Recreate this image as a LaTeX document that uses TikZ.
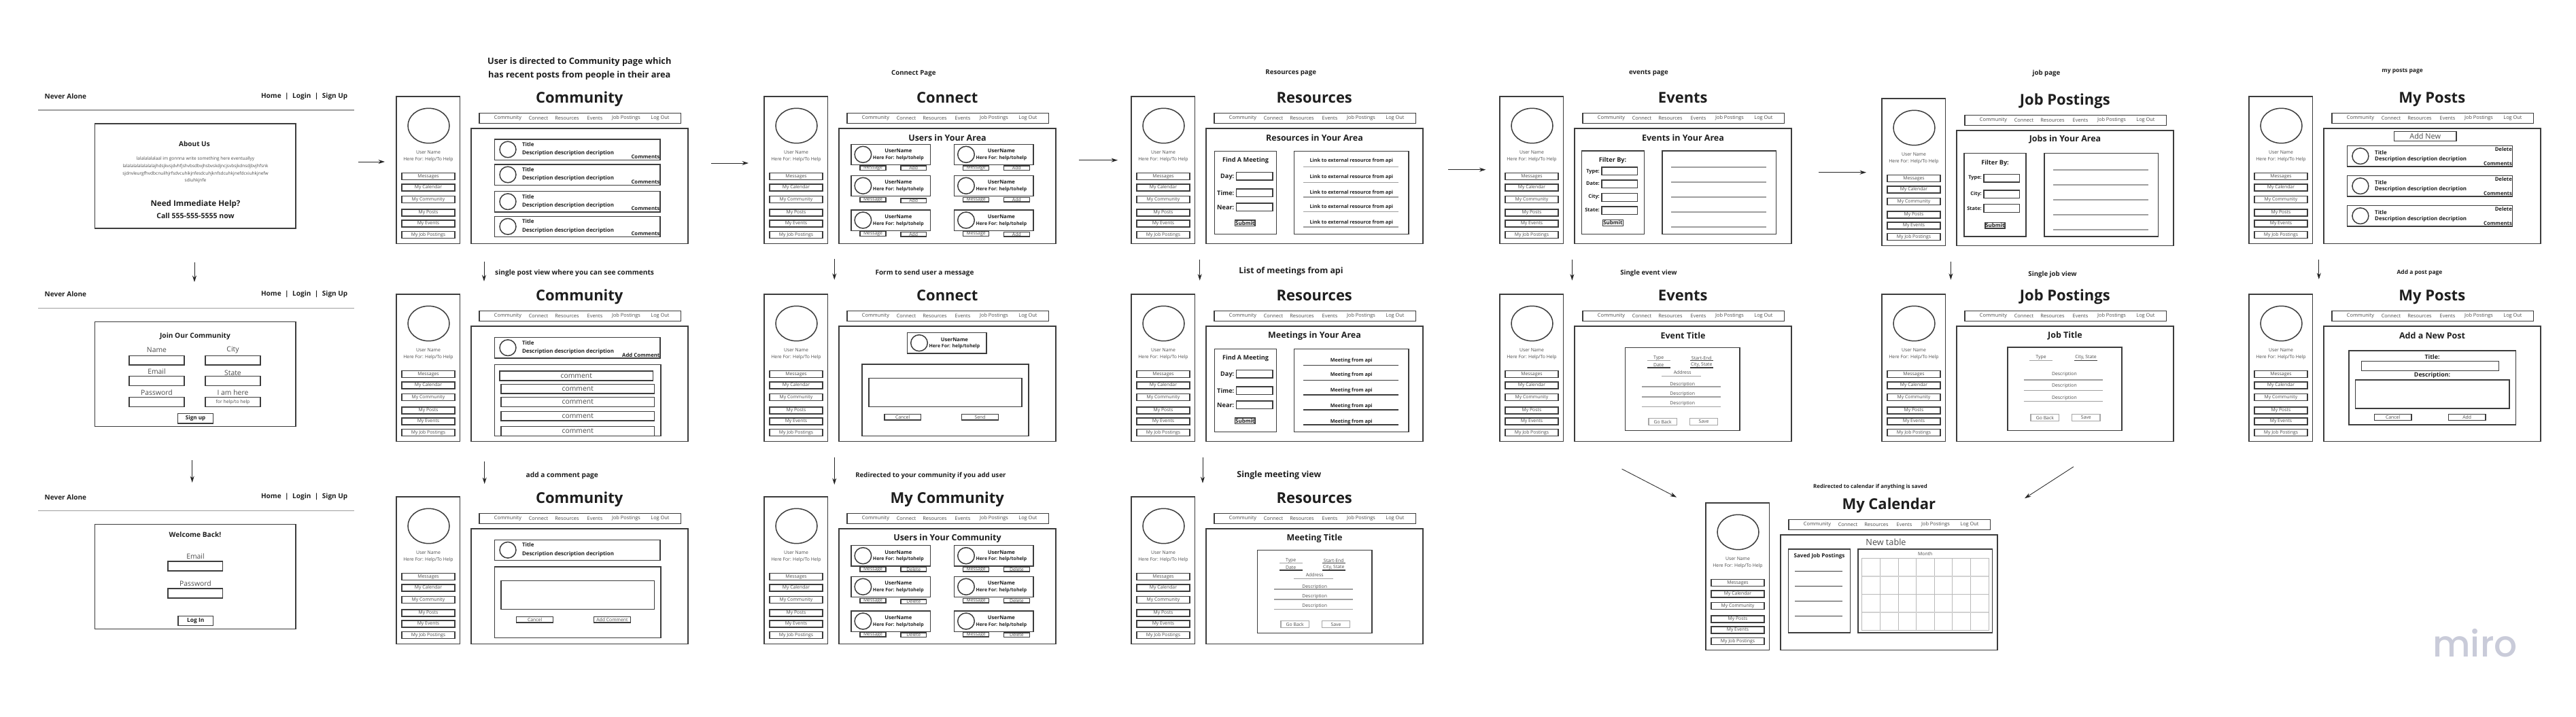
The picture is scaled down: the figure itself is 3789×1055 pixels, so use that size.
\documentclass[tikz,border=0pt]{standalone}
\usepackage{fontspec}
\setmainfont{Open Sans}
\newfontfamily\miroFont{Poppins Medium}
\usetikzlibrary{arrows.meta}
\definecolor{wireLine}{HTML}{3C3C3C}
\definecolor{wireText}{HTML}{1E1E1E}
\definecolor{softText}{HTML}{4A4A4A}
\definecolor{miroGrey}{HTML}{C9CBD9}
\newcommand{\fsz}[1]{\fontsize{#1}{#1}\selectfont}
\tikzset{
  box line/.style={line width=0.42pt, draw=wireLine},
  thin box/.style={line width=0.3pt, draw=gray!70},
  grid line/.style={line width=0.22pt, draw=gray!55},
  rule line/.style={line width=0.38pt, draw=wireLine},
  soft rule/.style={line width=0.42pt, draw=gray!75},
  flow arrow/.style={line width=0.24pt, draw=black!85, -{Stealth[length=2.7pt, width=1.7pt]}},
  plain text/.style={inner sep=0pt, text=softText},
  strong text/.style={inner sep=0pt, text=wireText, font=\bfseries\fsz{2.25}},
  side text/.style={plain text, font=\fsz{1.95}},
  nav text/.style={plain text, font=\fsz{2.1}},
  page title/.style={inner sep=0pt, anchor=base, text=wireText, font=\bfseries\fsz{6.25}},
  panel title/.style={inner sep=0pt, text=wireText, font=\bfseries\fsz{3.55}},
  note text/.style={inner sep=0pt, text=wireText, font=\bfseries\fsz{#1}},
  form text/.style={plain text, font=\fsz{2.95}},
  every picture/.style={x=0.01cm, y=-0.01cm},
}
\newcommand{\drawFlow}[3]{
  \coordinate (#1s) at (#2);
  \coordinate (#1e) at (#3);
  \draw[flow arrow] (#1s) -- (#1e);
}
\newcommand{\drawBtn}[6][box line]{
  \draw[#1] (#2) rectangle (#3);
  \path (#2) -- (#3) node[midway, #5] (#4) {#6};
}
% sidebar, title and nav bar that every app page shares
\newcommand{\drawScreen}[1]{
  \draw[box line] (0,0) rectangle (93.5,216.5);
  \draw[box line] (47.5,43) ellipse [x radius=30.5, y radius=25.7];
  \node[side text] (user) at (47,82.3) {User Name};
  \node[side text] (here) at (47,92.8) {Here For: Help/To Help};
  \foreach \i/\ty/\lbl in {1/112.5/Messages, 2/129/My Calendar, 3/146.5/My Community, 4/166/My Posts, 5/182/My Events, 6/198.5/My Job Postings} {
    \drawBtn{8,\ty}{86,\ty+10}{side\i}{side text}{\lbl}
  }
  \node[page title] (title) at (269.3,9.8) {#1};
  \draw[box line] (122,24.3) rectangle (418.5,39.3);
  \foreach \i/\xc/\lbl in {1/164/Community, 2/209/Connect, 3/251/Resources, 4/292/Events, 5/338/Job Postings, 6/388/Log Out} {
    \node[nav text] (nav\i) at (\xc,31.5) {\lbl};
  }
  \draw[box line] (110,47) rectangle (429,216.5);
}
\newcommand{\drawPostRow}[2]{
  \draw[box line] (144.3,#2) rectangle (388,#2+30.3);
  \draw[box line] (164,#2+15) ellipse [x radius=12, y radius=11.8];
  \node[strong text, anchor=west] (#1title) at (184.3,#2+7.7) {Title};
  \node[strong text, anchor=west] (#1desc) at (184.3,#2+20.7) {Description description decription};
}
\newcommand{\drawUserCard}[3]{
  \draw[box line] (#2,#3) rectangle (#2+116.5,#3+30.4);
  \draw[box line] (#2+17.4,#3+15) ellipse [x radius=12.3, y radius=12];
  \node[strong text, font=\bfseries\fsz{2.15}] (#1name) at (#2+69.3,#3+10) {UserName};
  \node[strong text, font=\bfseries\fsz{1.98}] (#1here) at (#2+69.3,#3+20.3) {Here For: help/tohelp};
}
\newcommand{\drawCardBtns}[5]{
  \drawBtn{#2+13,#3}{#2+51,#3+6.7}{#1msg}{side text}{Message}
  \drawBtn{#2+72.8,#4}{#2+110.7,#4+6.7}{#1add}{side text}{#5}
}
\newcommand{\drawMeetingForm}{
  \draw[box line] (122.4,80.5) rectangle (213.6,202.5);
  \node[strong text, font=\bfseries\fsz{2.6}] (find) at (168,94) {Find A Meeting};
  \foreach \i/\ty/\lbl/\ly in {1/111.5/Day:/118, 2/135.8/Time:/142, 3/157/Near:/163} {
    \draw[box line] (154.7,\ty) rectangle (208,\ty+11.7);
    \node[strong text, font=\bfseries\fsz{2.6}, anchor=east] (field\i) at (152,\ly) {\lbl};
  }
  \drawBtn{152.6,182}{182,190.7}{submit}{strong text}{Submit}
  \draw[box line] (239.6,80.5) rectangle (408,202.5);
}
\newcommand{\drawDetailBox}[1]{
  \draw[box line] (185.6+#1,78.3) rectangle (353.9+#1,200.6);
  \node[side text] (type) at (234.7+#1,93.5) {Type};
  \node[side text] (span) at (297.8+#1,93.5) {Start-End};
  \node[side text] (date) at (234.7+#1,104) {Date};
  \node[side text] (city) at (297.8+#1,104) {City, State};
  \node[side text] (addr) at (269.7+#1,114.7) {Address};
  \draw[soft rule] (218+#1,97.3) -- (252.4+#1,97.3);
  \draw[rule line] (281+#1,97.3) -- (314.5+#1,97.3);
  \draw[rule line] (218+#1,108) -- (252.4+#1,108);
  \draw[rule line] (281+#1,108) -- (314.5+#1,108);
  \draw[soft rule] (239+#1,120.3) -- (296.5+#1,120.3);
  \foreach \i/\ty/\ly in {1/132.5/136.2, 2/146.5/151, 3/161/165.7} {
    \node[side text] (desc\i) at (269.7+#1,\ty) {Description};
    \draw[soft rule] (210+#1,\ly) -- (326+#1,\ly);
  }
  \drawBtn[thin box]{220+#1,182.3}{261.3+#1,192.8}{back}{side text}{Go Back}
  \drawBtn[thin box]{280.3+#1,182.3}{321.6+#1,192.8}{save}{side text}{Save}
}
\begin{document}
\begin{tikzpicture}
  \useasboundingbox (0,0) rectangle (3789,1055);
  % landing pages
  \foreach \n/\hy/\ly in {a/142/162, b/433/453.5, c/731.3/751.3} {
    \node[note text=2.85, anchor=west] (brand\n) at (65,\hy) {Never Alone};
    \node[note text=2.85, anchor=east] (menu\n) at (512,\hy) {Home\hspace{0.55em}|\hspace{0.55em}Login\hspace{0.55em}|\hspace{0.55em}Sign Up};
    \draw[soft rule] (56,\ly) -- (521,\ly);
  }
  \draw[box line] (139.6,182) rectangle (435,336);
  \node[note text=2.85] (about) at (286,212) {About Us};
  \node[plain text, font=\fsz{1.85}] (lalaa) at (287.5,234) {lalalalalalaal im gonnna write something here eventuallyy};
  \node[plain text, font=\fsz{1.85}] (lalab) at (287.5,244.6) {lalalalalalalalalajhdsjkvsjdvhfjshvbsdbvjhsbvskdjncjsvbsjkdnsdjbvjhfsnk};
  \node[plain text, font=\fsz{1.85}] (lalac) at (287.5,255.6) {sjdnvleurgfhvdbcnuilhjrfsdvcuhikjnfesdcuhjknfsdcuhkjnefdcxiuhkjnefw};
  \node[plain text, font=\fsz{1.85}] (lalad) at (287.5,265.6) {sdiuhkjnfe};
  \node[note text=3.3] (need) at (287.5,300) {Need Immediate Help?};
  \node[note text=3.0] (call) at (287.5,318) {Call 555-555-5555 now};

  \draw[box line] (139.6,473.7) rectangle (435,627.3);
  \node[note text=2.9] (join) at (287,494.7) {Join Our Community};
  \foreach \i/\xa/\ty/\lbl/\ly in {1/190/523.3/Name/515, 2/302/523.3/City/515, 3/190/553.7/Email/546.3, 4/302/553.7/State/548.3, 5/190/584.7/Password/577.3, 6/302/584.7/I am here/577.3} {
    \draw[box line] (\xa,\ty) rectangle (\xa+81,\ty+13.7);
    \node[form text] (joinlbl\i) at (\xa+40.5,\ly) {\lbl};
  }
  \node[side text] (helpto) at (342.5,591.5) {for help/to help};
  \drawBtn{261.7,608.7}{313.6,623}{signup}{note text=2.3}{Sign up}

  \draw[box line] (139.6,771.7) rectangle (435,925.3);
  \node[note text=2.9] (welcome) at (287,786.3) {Welcome Back!};
  \node[form text] (mail) at (287.5,818.3) {Email};
  \draw[box line] (247,826) rectangle (327.6,840);
  \node[form text] (pass) at (287.5,858.3) {Password};
  \draw[box line] (247,866) rectangle (327.6,880);
  \drawBtn{262,906.7}{313.6,920.3}{login}{note text=2.4}{Log In}

  % community pages
  \begin{scope}[shift={(583,142)}, name prefix=cma-]
    \drawScreen{Community}
    \foreach \i/\ty in {1/63, 2/100, 3/139.7, 4/176.3} {
      \drawPostRow{p\i}{\ty}
      \node[note text=2.2, anchor=east] (p\i more) at (388,\ty+25.3) {Comments};
    }
  \end{scope}
  \begin{scope}[shift={(583,433)}, name prefix=cmb-]
    \drawScreen{Community}
    \drawPostRow{p}{63.7}
    \node[note text=2.2, anchor=east] (pmore) at (388,89.3) {Add Comment};
    \draw[box line] (144.5,103.3) rectangle (389,208.3);
    \foreach \i/\xa/\ty in {1/152/113, 2/154/132.3, 3/154/151.7, 4/154/172.3, 5/154/194.5} {
      \drawBtn{\xa,\ty}{\xa+225.5,\ty+13.8}{note\i}{form text}{comment}
    }
  \end{scope}
  \begin{scope}[shift={(583,731)}, name prefix=cmc-]
    \drawScreen{Community}
    \drawPostRow{p}{63.3}
    \draw[box line] (144.5,103) rectangle (389,207.7);
    \draw[box line] (154,123.3) rectangle (379.5,165.3);
    \drawBtn{176.7,176.3}{230.7,185}{cancel}{side text}{Cancel}
    \drawBtn{290.4,176.3}{344.4,185}{send}{side text}{Add Comment}
  \end{scope}

  % connect pages
  \begin{scope}[shift={(1124,142)}, name prefix=cta-]
    \drawScreen{Connect}
    \node[panel title] (heading) at (269.5,60.4) {Users in Your Area};
    \foreach \n/\cx/\cy/\ma/\mb in {a/128/70.3/102/102, b/279.6/70.3/102/102, c/128/116.3/148.3/150, d/279.6/116.3/148.3/148.3, e/128/167/198.7/199.3, f/279.6/167/198.7/199.3} {
      \drawUserCard{\n}{\cx}{\cy}
      \drawCardBtns{\n}{\cx}{\ma}{\mb}{Add}
    }
  \end{scope}
  \begin{scope}[shift={(1124,433)}, name prefix=ctb-]
    \drawScreen{Connect}
    \drawUserCard{u}{210.6}{56.7}
    \draw[box line] (144,103) rectangle (388.8,208.3);
    \draw[box line] (153.8,123.7) rectangle (379,165.3);
    \drawBtn{177,176.7}{230.3,185}{cancel}{side text}{Cancel}
    \drawBtn{290.6,176.7}{344.6,185}{send}{side text}{Send}
  \end{scope}
  \begin{scope}[shift={(1124,731)}, name prefix=ctc-]
    \drawScreen{My Community}
    \node[panel title] (heading) at (269.5,61) {Users in Your Community};
    \foreach \n/\cx/\cy/\ma/\mb in {a/128/71.7/103.4/103.4, b/279.6/71.7/103.4/103.4, c/128/117.3/149.3/151, d/279.6/117.3/149.3/149.3, e/128/168/199.5/200, f/279.6/168/199.5/200} {
      \drawUserCard{\n}{\cx}{\cy}
      \drawCardBtns{\n}{\cx}{\ma}{\mb}{Delete}
    }
  \end{scope}

  % resources pages
  \begin{scope}[shift={(1664,142)}, name prefix=rsa-]
    \drawScreen{Resources}
    \node[panel title] (heading) at (269.5,60.4) {Resources in Your Area};
    \drawMeetingForm
    \foreach \i/\ty/\ly in {1/94.7/103.7, 2/118.7/126.3, 3/141.7/148, 4/162.7/169.7, 5/185.7/192} {
      \node[strong text, font=\bfseries\fsz{2.05}] (link\i) at (323.8,\ty) {Link to external resource from api};
      \draw[soft rule] (253,\ly) -- (393,\ly);
    }
  \end{scope}
  \begin{scope}[shift={(1664,433)}, name prefix=rsb-]
    \drawScreen{Resources}
    \node[panel title] (heading) at (269.5,61.3) {Meetings in Your Area};
    \drawMeetingForm
    \foreach \i/\ty/\ly in {1/97.7/104.3, 2/118.7/126.3, 3/141.7/148, 4/164.7/170, 5/187.7/192} {
      \node[strong text, font=\bfseries\fsz{2.05}] (meet\i) at (323.8,\ty) {Meeting from api};
      \draw[rule line] (253,\ly) -- (393,\ly);
    }
  \end{scope}
  \begin{scope}[shift={(1664,731)}, name prefix=rsc-]
    \drawScreen{Resources}
    \node[panel title] (heading) at (269.5,61.3) {Meeting Title};
    \drawDetailBox{0}
  \end{scope}

  % events pages
  \begin{scope}[shift={(2206,142)}, name prefix=eva-]
    \drawScreen{Events}
    \node[panel title] (heading) at (269.5,60.4) {Events in Your Area};
    \draw[box line] (120.4,80) rectangle (212.3,202.3);
    \node[strong text, font=\bfseries\fsz{2.6}] (filter) at (166,94) {Filter By:};
    \foreach \i/\ty/\lbl/\ly in {1/104/Type:/110.7, 2/123/Date:/127.7, 3/142.7/City:/147.7, 4/162/State:/166.7} {
      \draw[box line] (150,\ty) rectangle (202.5,\ty+11.7);
      \node[note text=2.1, anchor=east] (field\i) at (147.5,\ly) {\lbl};
    }
    \drawBtn{151.3,181.3}{181.5,190.3}{submit}{strong text}{Submit}
    \draw[box line] (239,80) rectangle (406.7,202.3);
    \foreach \ly in {104,126,148,170,192} {
      \draw[soft rule] (251.6,\ly) -- (392,\ly);
    }
  \end{scope}
  \begin{scope}[shift={(2206,433)}, name prefix=evb-]
    \drawScreen{Events}
    \node[panel title] (heading) at (269.5,61.3) {Event Title};
    \drawDetailBox{-1}
  \end{scope}

  % job pages
  \begin{scope}[shift={(2768,145)}, name prefix=jba-]
    \drawScreen{Job Postings}
    \node[panel title] (heading) at (269.5,60.4) {Jobs in Your Area};
    \draw[box line] (121,80.7) rectangle (212,203);
    \node[strong text, font=\bfseries\fsz{2.6}] (filter) at (166.6,95) {Filter By:};
    \foreach \i/\ty/\lbl/\ly in {1/111.3/Type:/117, 2/135/City:/140.7, 3/155.7/State:/161.7} {
      \draw[box line] (149.8,\ty) rectangle (202.4,\ty+11.7);
      \node[note text=2.1, anchor=east] (field\i) at (147.5,\ly) {\lbl};
    }
    \drawBtn{151.9,182.7}{181,191}{submit}{strong text}{Submit}
    \draw[box line] (238.9,80.7) rectangle (406.6,203);
    \foreach \ly in {105,127,149,171,193} {
      \draw[soft rule] (252,\ly) -- (391.8,\ly);
    }
  \end{scope}
  \begin{scope}[shift={(2768,433)}, name prefix=jbb-]
    \drawScreen{Job Postings}
    \node[panel title] (heading) at (269.5,61.3) {Job Title};
    \draw[box line] (185,78) rectangle (353,200.3);
    \node[side text] (type) at (234,93.3) {Type};
    \node[side text] (city) at (300,93.3) {City, State};
    \draw[soft rule] (217,97.3) -- (251,97.3);
    \draw[rule line] (283,97.3) -- (317,97.3);
    \foreach \i/\ty/\ly in {1/117.7/126, 2/134.7/141.3, 3/152.7/157.7} {
      \node[side text] (desc\i) at (268.4,\ty) {Description};
      \draw[soft rule] (208.7,\ly) -- (325,\ly);
    }
    \drawBtn[thin box]{219,176.7}{260.7,186.3}{back}{side text}{Go Back}
    \drawBtn[thin box]{279.6,176.7}{321,186.3}{save}{side text}{Save}
  \end{scope}

  % my posts pages
  \begin{scope}[shift={(3308,142)}, name prefix=mpa-]
    \drawScreen{My Posts}
    \drawBtn{213.5,51.7}{304.9,65.7}{addnew}{plain text, font=\fsz{3.1}}{Add New}
    \foreach \i/\ty in {1/72.7, 2/116.7, 3/160.7} {
      \draw[box line] (144.3,\ty) rectangle (387.6,\ty+30.3);
      \draw[box line] (163.9,\ty+15) ellipse [x radius=12, y radius=11.8];
      \node[strong text, anchor=west] (p\i title) at (184.5,\ty+9.7) {Title};
      \node[strong text, anchor=west] (p\i desc) at (184.5,\ty+19.7) {Description description decription};
      \node[note text=2.2, anchor=east] (p\i drop) at (387.6,\ty+4.7) {Delete};
      \node[note text=2.2, anchor=east] (p\i more) at (387.6,\ty+25.7) {Comments};
    }
  \end{scope}
  \begin{scope}[shift={(3308,433)}, name prefix=mpb-]
    \drawScreen{My Posts}
    \node[panel title] (heading) at (269.5,61.3) {Add a New Post};
    \draw[box line] (147,83) rectangle (392.3,192);
    \node[note text=2.5] (ftitle) at (269.5,92) {Title:};
    \draw[box line] (165.6,98.7) rectangle (367.7,112.3);
    \node[note text=2.5] (fdesc) at (269.5,119) {Description:};
    \draw[box line] (156.5,126) rectangle (382.8,168);
    \drawBtn{184.5,176.7}{238.8,185.3}{cancel}{side text}{Cancel}
    \drawBtn{293.4,176.7}{347.8,185.3}{add}{side text}{Add}
  \end{scope}

  % calendar page
  \begin{scope}[shift={(2509,740)}, name prefix=cal-]
    \drawScreen{My Calendar}
    \node[plain text, font=\fsz{3.6}] (tablename) at (265,58) {New table};
    \draw[box line] (121.5,68) rectangle (212.7,191);
    \node[note text=2.3] (saved) at (167,78) {Saved Job Postings};
    \foreach \ly in {100.7,122.7,144.3,166.3} {
      \draw[rule line] (131,\ly) -- (201.3,\ly);
    }
    \draw[box line] (224,68) rectangle (421.6,191);
    \node[side text] (month) at (322.8,75) {Month};
    \draw[grid line] (229.7,81.3) rectangle (415.9,187.7);
    \foreach \k in {1,...,6} {
      \draw[grid line] (229.7+26.6*\k,81.3) -- (229.7+26.6*\k,187.7);
    }
    \draw[grid line, line width=0.4pt, draw=gray!35] (229.7,108) -- (415.9,108);
    \draw[grid line] (229.7,134.3) -- (415.9,134.3);
    \draw[grid line, line width=0.4pt, draw=gray!35] (229.7,161) -- (415.9,161);
  \end{scope}

  % captions
  \node[note text=3.65] (capa) at (852.3,91.3) {User is directed to Community page which};
  \node[note text=3.65] (capb) at (852.3,110.7) {has recent posts from people in their area};
  \node[note text=2.9, anchor=west] (capc) at (727.5,401.7) {single post view where you can see comments};
  \node[note text=2.9, anchor=west] (capd) at (773,699.7) {add a comment page};
  \node[note text=2.75] (cape) at (1343.8,107.7) {Connect Page};
  \node[note text=2.75] (capf) at (1898.7,107.7) {Resources page};
  \node[note text=2.85] (capg) at (1360,401.7) {Form to send user a message};
  \node[note text=3.5] (caph) at (1899,399.7) {List of meetings from api};
  \node[note text=2.75] (capi) at (1369,699.7) {Redirected to your community if you add user};
  \node[note text=3.55, anchor=west] (capj) at (1818.7,699.7) {Single meeting view};
  \node[note text=2.75] (capk) at (2425,107.7) {events page};
  \node[note text=2.75] (capl) at (3010,107.7) {job page};
  \node[note text=2.4] (capm) at (3533.6,105) {my posts page};
  \node[note text=2.75] (capn) at (2425,401.7) {Single event view};
  \node[note text=2.75] (capo) at (3019,404.3) {Single job view};
  \node[note text=2.4] (capp) at (3559,401.7) {Add a post page};
  \node[note text=2.25] (capq) at (2751,716) {Redirected to calendar if anything is saved};
  \node[inner sep=0pt, anchor=base, text=miroGrey, font=\miroFont\fsz{15.2}] (miro) at (3640.5,966) {miro};

  % flow between pages
  \drawFlow{la}{286,386}{286,415}
  \drawFlow{lb}{282.7,677}{282.7,710}
  \drawFlow{ha}{527,238}{566,238}
  \drawFlow{hb}{1046,240}{1101,240}
  \drawFlow{hc}{1586.5,235.7}{1644,235.7}
  \drawFlow{hd}{2129.5,249.7}{2185.4,249.7}
  \drawFlow{he}{2675,253.7}{2745,253.7}
  \drawFlow{va}{712,385}{712,414}
  \drawFlow{vb}{712.7,679}{712.7,712}
  \drawFlow{vc}{1227.3,381}{1227.3,411.7}
  \drawFlow{vd}{1227.3,673}{1227.3,713}
  \drawFlow{ve}{1764.7,382}{1764.7,412.7}
  \drawFlow{vf}{1769,673}{1769,711}
  \drawFlow{vg}{2312.4,382}{2312.4,412.7}
  \drawFlow{vh}{2869.4,385}{2869.4,411.7}
  \drawFlow{vi}{3410.8,381.7}{3410.8,411}
  \drawFlow{da}{2385.5,690}{2466,731.7}
  \drawFlow{db}{3050,686.7}{2978,733.3}
\end{tikzpicture}
\end{document}
